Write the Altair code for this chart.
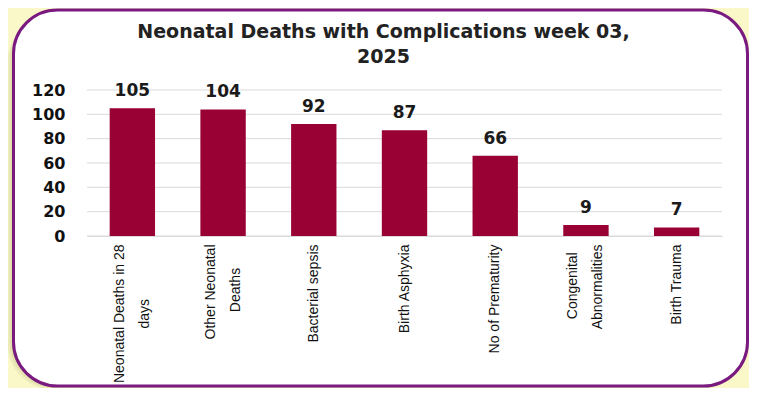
import altair as alt
import pandas as pd

NB = "\u00a0"
ZW = "\u200b"
# "|" separates label lines; trailing no-break spaces centre the shorter line
categories = [
    "Neonatal Deaths in 28|days" + NB * 14 + ZW,
    "Other Neonatal|Deaths" + NB * 6 + ZW,
    "Bacterial sepsis",
    "Birth Asphyxia",
    "No of Prematurity",
    "Congenital" + NB * 2 + ZW + "|Abnormalities",
    "Birth Trauma",
]
values = [105, 104, 92, 87, 66, 9, 7]
y_ticks = [0, 20, 40, 60, 80, 100, 120]
title_lines = ["Neonatal Deaths with Complications  week 03,", "2025"]

df = pd.DataFrame({"cat": categories, "val": values})
ticks_df = pd.DataFrame({"t": y_ticks})
one = pd.DataFrame({"k": [0]})

ydom = alt.Scale(domain=[0, 120])

y_axis = alt.Axis(
    title=None,
    values=y_ticks,
    grid=False,
    domain=False,
    ticks=False,
    tickSize=0,
    labelPadding=22,
    labelFont="DejaVu Sans",
    labelFontWeight="bold",
    labelFontSize=16,
    labelColor="#111111",
    zindex=1,
)

shadows = [
    alt.Chart(one).mark_rect(fill="#8f8c50", opacity=0.10, cornerRadius=46).encode(
        x=alt.value(-73.5 - d), x2=alt.value(660.5 - d * 0.3),
        y=alt.value(-80 + d), y2=alt.value(296 + d * 0.6),
    )
    for d in (2, 4, 6)
]

frame = alt.Chart(one).mark_rect(
    fill="white", stroke="#7A1A80", strokeWidth=3, cornerRadius=44
).encode(
    x=alt.value(-73.5), x2=alt.value(660.5), y=alt.value(-80), y2=alt.value(296)
)

grid = alt.Chart(ticks_df).mark_rule(color="#D9D9D9", strokeWidth=1).encode(
    y=alt.Y("t:Q", scale=ydom, axis=y_axis)
)

x_enc = alt.X(
    "cat:N",
    sort=None,
    scale=alt.Scale(paddingInner=0.5, paddingOuter=0.25),
    axis=alt.Axis(
        title=None,
        labelAngle=270,
        labelExpr="split(datum.label, '|')",
        labelFont="Liberation Sans",
        labelFontSize=14,
        labelColor="#111111",
        labelLineHeight=25,
        labelPadding=8,
        labelLimit=300,
        labelOffset={
            "condition": {"test": "indexof(datum.value, '|') >= 0", "value": -12.5},
            "value": 0,
        },
        ticks=False,
        domain=True,
        domainColor="#D9D9D9",
        zindex=1,
    ),
)

y_enc = alt.Y("val:Q", scale=ydom, axis=y_axis)

base = alt.Chart(df)
bars = base.mark_bar(color="#990033").encode(x=x_enc, y=y_enc)
labels = base.mark_text(
    dy=-17, font="DejaVu Sans", fontWeight="bold", fontSize=17, color="#1a1a1a"
).encode(x=x_enc, y=y_enc, text="val:Q")

chart = alt.layer(*shadows, frame, grid, bars, labels).properties(
    width=635,
    height=146,
    padding={"left": 79, "top": 82, "right": 27, "bottom": 152},
    autosize=alt.AutoSizeParams(type="none"),
    background="#FAF8C8",
    title=alt.TitleParams(
        text=title_lines,
        font="DejaVu Sans",
        fontSize=19,
        fontWeight="bold",
        color="#222222",
        anchor="middle",
        frame="group",
        dx=-21,
        offset=-58,
        lineHeight=25,
    ),
).configure_view(stroke=None)

chart.save("out.html", embed_options={"renderer": "svg", "actions": False})
